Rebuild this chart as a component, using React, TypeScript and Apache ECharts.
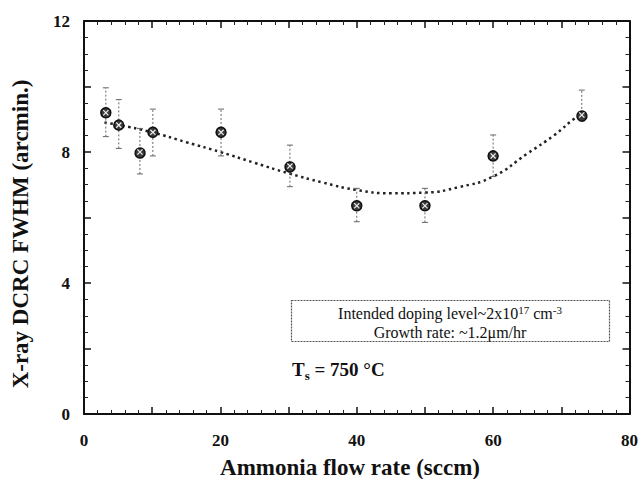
import React, { useEffect, useRef } from "react";
import * as echarts from "echarts";

const xVals = [3.2, 5.1, 8.2, 10.1, 20.1, 30.2, 40, 50, 60, 73];
const yVals = [9.2, 8.82, 8.0, 8.6, 8.6, 7.57, 6.36, 6.36, 7.88, 9.13];
const hiVals = [9.96, 9.6, 8.72, 9.31, 9.31, 8.21, 6.89, 6.89, 8.52, 9.89];
const loVals = [8.47, 8.11, 7.33, 7.88, 7.88, 6.94, 5.87, 5.85, 7.25, 8.95];

const fitX = [3, 5, 10, 15, 20, 25, 30, 35, 40, 45, 50, 55, 60, 65, 69, 72, 73];
const fitY = [8.9, 8.83, 8.6, 8.3, 8.0, 7.67, 7.35, 7.07, 6.84, 6.74, 6.76, 6.93, 7.25, 7.95, 8.52, 9.03, 9.13];

const xTicks = [0, 20, 40, 60, 80];
const yTicks = [0, 4, 8, 12];

const SERIF = "'Liberation Serif', 'DejaVu Serif', serif";

export default function App() {
  const ref = useRef<HTMLDivElement>(null);
  useEffect(() => {
    document.body.style.margin = "0";
    const chart = echarts.init(ref.current!, null, { renderer: "svg" });
    const axisCommon = {
      type: "value" as const,
      axisLine: { show: true, onZero: false, lineStyle: { color: "#111", width: 2 } },
      axisTick: { show: true, inside: true, length: 7, lineStyle: { color: "#111", width: 1.5 } },
      minorTick: { show: true, length: 4, lineStyle: { color: "#222", width: 1 } },
      splitLine: { show: false },
    };
    const labelStyle = {
      fontFamily: SERIF,
      fontWeight: "bold" as const,
      fontSize: 17,
      color: "#111",
    };
    chart.setOption({
      animation: false,
      backgroundColor: "#fff",
      grid: { left: 84, right: 9, top: 21, bottom: 65 },
      xAxis: [
        {
          ...axisCommon,
          min: 0,
          max: 80,
          interval: 10,
          position: "bottom",
          minorTick: { ...axisCommon.minorTick, splitNumber: 5 },
          axisLabel: {
            ...labelStyle,
            margin: 18,
            formatter: (v: number) => (xTicks.includes(v) ? String(v) : ""),
          },
        },
        {
          ...axisCommon,
          min: 0,
          max: 80,
          interval: 10,
          position: "top",
          minorTick: { ...axisCommon.minorTick, splitNumber: 5 },
          axisLabel: { show: false },
        },
      ],
      yAxis: [
        {
          ...axisCommon,
          min: 0,
          max: 12,
          interval: 2,
          position: "left",
          minorTick: { ...axisCommon.minorTick, splitNumber: 4 },
          axisLabel: {
            ...labelStyle,
            margin: 14,
            formatter: (v: number) => (yTicks.includes(v) ? String(v) : ""),
          },
        },
        {
          ...axisCommon,
          min: 0,
          max: 12,
          interval: 2,
          position: "right",
          minorTick: { ...axisCommon.minorTick, splitNumber: 4 },
          axisLabel: { show: false },
        },
      ],
      graphic: [
        {
          type: "text",
          x: 350,
          y: 467,
          style: {
            text: "Ammonia flow rate (sccm)",
            fontFamily: SERIF,
            fontWeight: "bold",
            fontSize: 23,
            fill: "#111",
            align: "center",
            verticalAlign: "middle",
          },
        },
        {
          type: "text",
          x: 20,
          y: 234,
          rotation: Math.PI / 2,
          style: {
            text: "X-ray DCRC FWHM (arcmin.)",
            fontFamily: SERIF,
            fontWeight: "bold",
            fontSize: 23,
            fill: "#111",
            align: "center",
            verticalAlign: "middle",
          },
        },
        {
          type: "rect",
          shape: { x: 291.5, y: 300.5, width: 318, height: 41 },
          style: { fill: "none", stroke: "#555", lineWidth: 1.2, lineDash: [2, 1] },
        },
        {
          type: "text",
          x: 450,
          y: 313,
          style: {
            text: "Intended doping level~2x10{sup|17} cm{sup|-3}",
            fontFamily: SERIF,
            fontSize: 16,
            fill: "#111",
            align: "center",
            verticalAlign: "middle",
            rich: {
              sup: { fontFamily: SERIF, fontSize: 11, fill: "#111", verticalAlign: "top", padding: [0, 0, 7, 0] },
            },
          },
        },
        {
          type: "text",
          x: 450,
          y: 332,
          style: {
            text: "Growth rate: ~1.2μm/hr",
            fontFamily: SERIF,
            fontSize: 16,
            fill: "#111",
            align: "center",
            verticalAlign: "middle",
          },
        },
        {
          type: "text",
          x: 292,
          y: 369,
          style: {
            text: "{b|T}{s|s}{b| = 750 °C}",
            fontFamily: SERIF,
            fill: "#111",
            align: "left",
            verticalAlign: "middle",
            rich: {
              b: { fontFamily: SERIF, fontWeight: "bold", fontSize: 19, fill: "#111" },
              s: { fontFamily: SERIF, fontWeight: "bold", fontSize: 13, fill: "#111", padding: [13, 0, 0, 0] },
            },
          },
        },
      ],
      series: [
        {
          type: "line",
          xAxisIndex: 0,
          yAxisIndex: 0,
          smooth: true,
          symbol: "none",
          data: fitX.map((x, i) => [x, fitY[i]]),
          lineStyle: { color: "#222", width: 2.5, type: [2.5, 3.5] },
          z: 2,
        },
        {
          type: "custom",
          xAxisIndex: 0,
          yAxisIndex: 0,
          data: xVals.map((x, i) => [x, loVals[i], hiVals[i]]),
          renderItem: (params: any, api: any) => {
            const x = api.value(0);
            const lo = api.coord([x, api.value(1)]);
            const hi = api.coord([x, api.value(2)]);
            const st = { stroke: "#666", lineWidth: 1, lineDash: [2, 2] };
            const cap = { stroke: "#666", lineWidth: 1 };
            return {
              type: "group",
              children: [
                { type: "line", shape: { x1: lo[0], y1: lo[1], x2: hi[0], y2: hi[1] }, style: st },
                { type: "line", shape: { x1: hi[0] - 3, y1: hi[1], x2: hi[0] + 3, y2: hi[1] }, style: cap },
                { type: "line", shape: { x1: lo[0] - 3, y1: lo[1], x2: lo[0] + 3, y2: lo[1] }, style: cap },
              ],
            };
          },
          z: 3,
        },
        {
          type: "custom",
          xAxisIndex: 0,
          yAxisIndex: 0,
          data: xVals.map((x, i) => [x, yVals[i]]),
          renderItem: (params: any, api: any) => {
            const p = api.coord([api.value(0), api.value(1)]);
            const r = 5;
            const d = 2.6;
            const w = { stroke: "#eee", lineWidth: 1.2 };
            return {
              type: "group",
              children: [
                { type: "circle", shape: { cx: p[0], cy: p[1], r }, style: { fill: "#3a3a3a", stroke: "#111", lineWidth: 1.5 } },
                { type: "line", shape: { x1: p[0] - d, y1: p[1] - d, x2: p[0] + d, y2: p[1] + d }, style: w },
                { type: "line", shape: { x1: p[0] - d, y1: p[1] + d, x2: p[0] + d, y2: p[1] - d }, style: w },
              ],
            };
          },
          z: 4,
        },
      ],
    });
    return () => chart.dispose();
  }, []);
  return <div ref={ref} style={{ width: 641, height: 479 }} />;
}
